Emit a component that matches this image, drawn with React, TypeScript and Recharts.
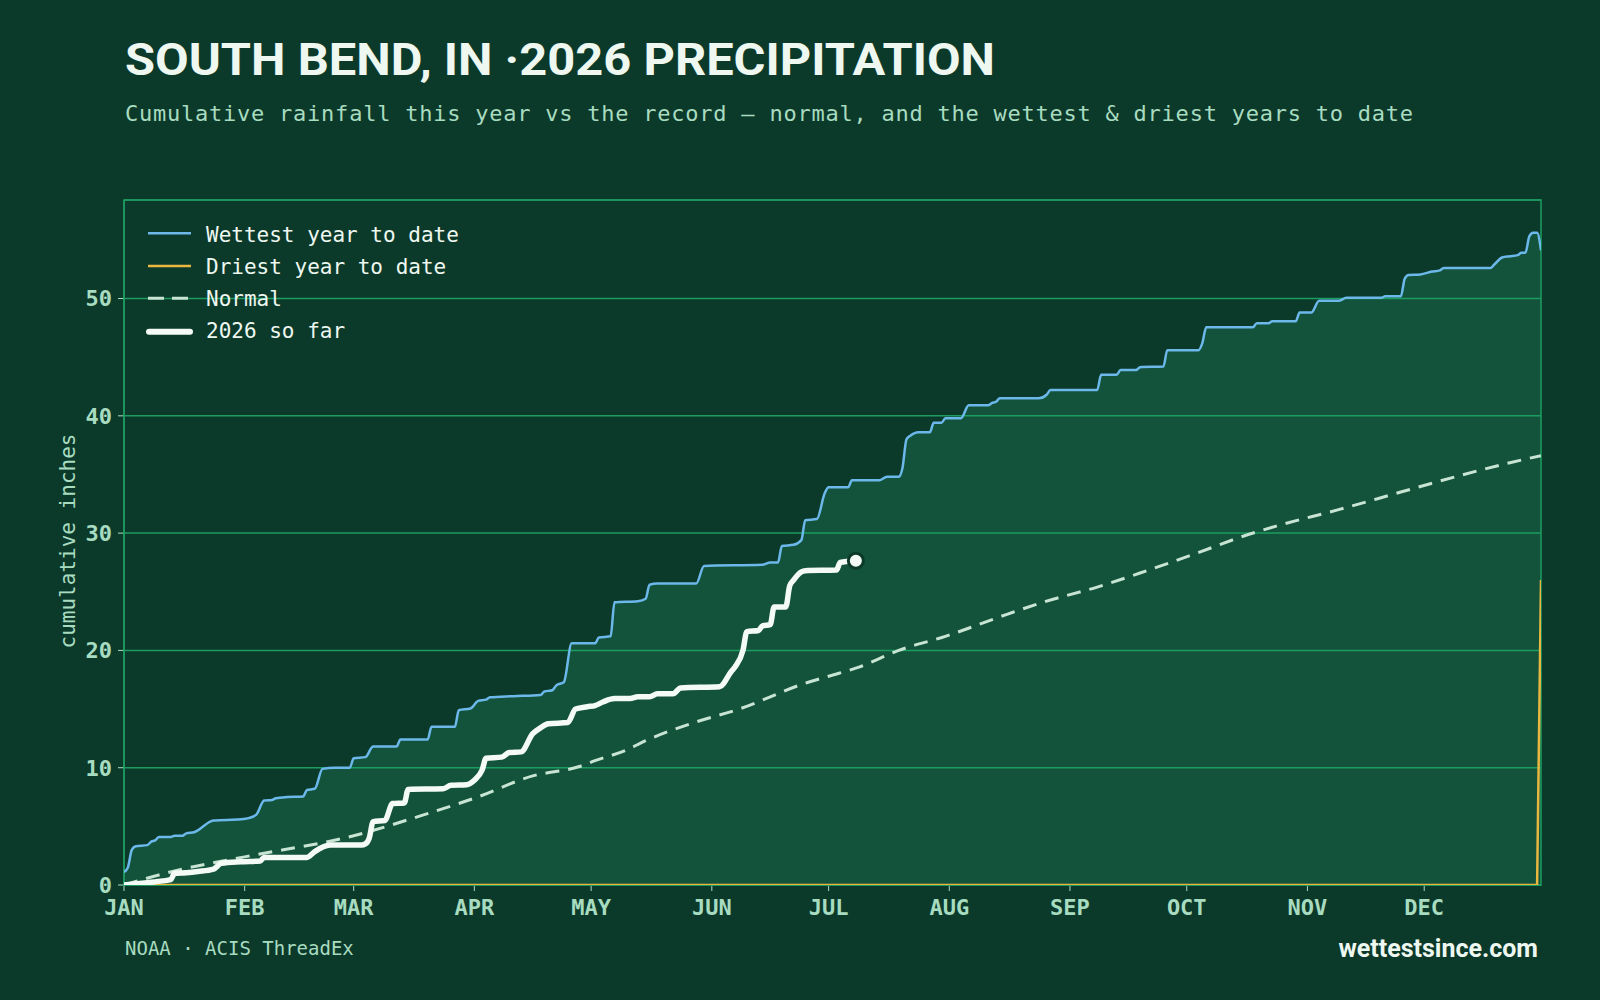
import { ComposedChart, Area, Line, XAxis, YAxis, CartesianGrid, Legend, ReferenceArea } from 'recharts';

// day-of-year index (0 = Jan 1) and cumulative inches
const MONTHS = ['JAN', 'FEB', 'MAR', 'APR', 'MAY', 'JUN', 'JUL', 'AUG', 'SEP', 'OCT', 'NOV', 'DEC'];
const MONTH_STARTS = [0, 31, 59, 90, 120, 151, 181, 212, 243, 273, 304, 334];
const Y_TICKS = [0, 10, 20, 30, 40, 50];

const WETTEST: [number, number][] = [
  [0, 1.1], [1, 1.5], [2, 3.0], [3, 3.3], [6, 3.4], [7, 3.7], [8, 3.8], [9, 4.1], [12, 4.1], [13, 4.2],
  [15, 4.2], [16, 4.4], [18, 4.5], [23, 5.5], [30, 5.6], [32, 5.7], [34, 6.0], [36, 7.2], [38, 7.25], [39, 7.4],
  [42, 7.5], [46, 7.55], [47, 8.1], [49, 8.2], [51, 9.9], [54, 10.0], [58, 10.0], [59, 10.8], [62, 10.9], [64, 11.8],
  [70, 11.8], [71, 12.4], [78, 12.4], [79, 13.5], [85, 13.5], [86, 14.9], [89, 15.05], [91, 15.7], [93, 15.8], [94, 16.0],
  [100, 16.1], [107, 16.2], [108, 16.5], [110, 16.6], [111, 17.0], [113, 17.3], [115, 20.6], [121, 20.6], [122, 21.1], [125, 21.2],
  [126, 24.1], [132, 24.2], [134, 24.4], [135, 25.6], [137, 25.7], [147, 25.7], [149, 27.2], [164, 27.3], [166, 27.5], [168, 27.5],
  [169, 28.9], [172, 29.0], [174, 29.4], [175, 31.1], [178, 31.2], [180, 33.4], [181, 33.9], [186, 33.9], [187, 34.5], [194, 34.5],
  [196, 34.8], [199, 34.8], [200, 35.6], [201, 38.0], [202, 38.3], [204, 38.6], [207, 38.6], [208, 39.4], [210, 39.4], [211, 39.8],
  [215, 39.8], [217, 40.9], [222, 40.9], [223, 41.1], [224, 41.2], [225, 41.5], [235, 41.5], [237, 41.8], [238, 42.2], [250, 42.2],
  [251, 43.5], [255, 43.5], [256, 43.9], [260, 43.9], [261, 44.15], [267, 44.2], [268, 45.6], [276, 45.6], [277, 46.2], [278, 47.55],
  [290, 47.55], [291, 47.9], [294, 47.9], [295, 48.06], [301, 48.06], [302, 48.8], [305, 48.8], [307, 49.8], [312, 49.8], [314, 50.06],
  [323, 50.06], [324, 50.2], [328, 50.2], [329, 51.7], [330, 52.0], [333, 52.05], [336, 52.3], [338, 52.4], [339, 52.6], [351, 52.6],
  [352, 52.9], [354, 53.5], [356, 53.6], [358, 53.7], [359, 53.9], [360, 53.9], [361, 55.3], [362, 55.6], [363, 55.6], [364, 54.1],
];

const DRIEST: [number, number][] = [[0, 0], [363, 0], [364, 26.0]];

const NORMAL: [number, number][] = [
  [0, 0.0], [13, 1.2], [31, 2.4], [59, 4.2], [79, 6.2], [90, 7.4], [105, 9.3], [117, 10.1], [121, 10.6], [129, 11.5],
  [134, 12.3], [146, 13.8], [158, 15.0], [175, 17.2], [181, 17.8], [189, 18.6], [199, 20.0], [211, 21.2], [227, 23.1], [236, 24.1],
  [250, 25.4], [261, 26.6], [274, 28.1], [289, 29.9], [296, 30.6], [312, 32.0], [328, 33.5], [342, 34.8], [356, 36.0], [364, 36.6],
];

const THIS_YEAR: [number, number][] = [
  [0, 0.0], [6, 0.2], [10, 0.35], [12, 0.45], [13, 1.0], [16, 1.05], [19, 1.15], [23, 1.35], [25, 1.85], [30, 1.98],
  [35, 2.05], [36, 2.35], [47, 2.35], [49, 2.85], [53, 3.4], [61, 3.4], [62, 3.5], [63, 4.0], [64, 5.4], [67, 5.5],
  [69, 6.95], [72, 7.0], [73, 8.15], [82, 8.2], [84, 8.5], [88, 8.55], [90, 8.94], [92, 9.8], [93, 10.8], [97, 10.9],
  [99, 11.3], [102, 11.35], [105, 12.9], [107, 13.4], [109, 13.75], [114, 13.85], [116, 15.0], [119, 15.2], [121, 15.3], [123, 15.6],
  [126, 15.9], [130, 15.9], [132, 16.05], [135, 16.05], [137, 16.3], [141, 16.3], [143, 16.8], [153, 16.9], [156, 18.2], [157, 18.6],
  [159, 20.0], [160, 21.6], [163, 21.7], [164, 22.1], [166, 22.2], [167, 23.7], [170, 23.7], [171, 25.5], [172, 26.0], [174, 26.7],
  [175, 26.8], [183, 26.85], [184, 27.5], [186, 27.6], [188, 27.65],
];

const LEGEND_LABELS = ['Wettest year to date', 'Driest year to date', 'Normal', '2026 so far'];

const BG = '#0c3a2a';
const FILL = '#13523b';
const GRID = '#1d9c61';
const MINT = '#a8dcc0';
const BLUE = '#6cb8ea';
const YELLOW = '#e9b740';
const WHITE = '#f4fbf6';
const NORMAL_C = '#c8e4d2';
const TEXT = '#eef8f1';
const MONO = '"DejaVu Sans Mono", monospace';
const SANS = 'Roboto, "Open Sans", sans-serif';

const rows = (pts: [number, number][]) => pts.map(([d, v]) => ({ d, v }));

const LegendBox = () => {
  const samples = [
    <line key="a" x1={8} x2={51} y1={21.3} y2={21.3} stroke={BLUE} strokeWidth={2.5} />,
    <line key="b" x1={8} x2={51} y1={54} y2={54} stroke={YELLOW} strokeWidth={2.5} />,
    <line key="c" x1={8} x2={51} y1={86.3} y2={86.3} stroke={NORMAL_C} strokeWidth={3} strokeDasharray="16 8" />,
    <line key="d" x1={9} x2={50} y1={119.7} y2={119.7} stroke={WHITE} strokeWidth={6} strokeLinecap="round" />,
  ];
  return (
    <svg width={340} height={135} style={{ display: 'block' }}>
      {samples}
      {LEGEND_LABELS.map((l, i) => (
        <text key={l} x={66} y={29.5 + i * 32.2} fill={TEXT} fontFamily={MONO} fontSize={21}>{l}</text>
      ))}
    </svg>
  );
};

const EndDot = (props: any) => {
  const { cx, cy, index } = props;
  if (index !== THIS_YEAR.length - 1) return <g key={`dot-${index}`} />;
  return <circle key={`dot-${index}`} cx={cx} cy={cy} r={7.5} fill={WHITE} stroke={BG} strokeWidth={3} />;
};

export default function App() {
  return (
    <div style={{ position: 'relative', width: 1600, height: 1000, background: BG, overflow: 'hidden' }}>
      <style>{`html, body { margin: 0; padding: 0; background: ${BG}; }`}</style>
      <div style={{ position: 'absolute', left: 0, top: 0 }}>
        <ComposedChart width={1600} height={1000} margin={{ top: 200, right: 59, bottom: 75, left: 64 }}>
          <XAxis
            type="number" dataKey="d" domain={[0, 364]} ticks={MONTH_STARTS} interval={0} allowDataOverflow
            tickFormatter={(d: number) => MONTHS[MONTH_STARTS.indexOf(d)]}
            height={40} tickSize={6} tickMargin={8} zIndex={120}
            axisLine={{ stroke: GRID, strokeWidth: 1.5 }} tickLine={{ stroke: MINT }}
            tick={{ fill: MINT, fontSize: 22, fontWeight: 700, fontFamily: MONO }}
          />
          <YAxis
            type="number" domain={[0, 58.4]} ticks={Y_TICKS} interval={0} allowDataOverflow
            width={60} tickSize={6} tickMargin={6} zIndex={120}
            axisLine={{ stroke: GRID, strokeWidth: 1.5 }} tickLine={{ stroke: MINT }}
            tick={{ fill: MINT, fontSize: 22, fontWeight: 700, fontFamily: MONO }}
          />
          <Area data={rows(WETTEST)} dataKey="v" type="monotone" stroke="none" fill={FILL} fillOpacity={1} isAnimationActive={false} />
          <CartesianGrid vertical={false} stroke={GRID} strokeWidth={1.5} zIndex={150} />
          <ReferenceArea x1={0} x2={364} y1={0} y2={58.4} fill="none" stroke={GRID} strokeWidth={1.5} ifOverflow="visible" zIndex={150} />
          <Line data={rows(WETTEST)} dataKey="v" type="monotone" stroke={BLUE} strokeWidth={2.5} dot={false} isAnimationActive={false} />
          <Line data={rows(DRIEST)} dataKey="v" type="linear" stroke={YELLOW} strokeWidth={2.5} dot={false} isAnimationActive={false} />
          <Line data={rows(NORMAL)} dataKey="v" type="monotone" stroke={NORMAL_C} strokeWidth={3} strokeDasharray="14 9" dot={false} isAnimationActive={false} />
          <Line data={rows(THIS_YEAR)} dataKey="v" type="monotone" stroke={WHITE} strokeWidth={5.5} strokeLinejoin="round" dot={EndDot} isAnimationActive={false} />
          <Legend layout="vertical" align="center" verticalAlign="middle" content={() => <LegendBox />}
            wrapperStyle={{ left: 140, top: 212, width: 340, height: 135 }} />
        </ComposedChart>
      </div>
      <svg width={1600} height={1000} style={{ position: 'absolute', left: 0, top: 0, pointerEvents: 'none' }}>
        <text x={125} y={75} fill={TEXT} fontFamily={SANS} fontWeight={700} fontSize={45} textLength={870} lengthAdjust="spacingAndGlyphs">
          SOUTH BEND, IN ·2026 PRECIPITATION
        </text>
        <text x={125} y={121} fill={MINT} fontFamily={MONO} fontSize={22} textLength={1288}>
          Cumulative rainfall this year vs the record — normal, and the wettest &amp; driest years to date
        </text>
        <text x={75} y={541} fill={MINT} fontFamily={MONO} fontSize={21} textAnchor="middle" transform="rotate(-90 75 541)">
          cumulative inches
        </text>
        <text x={125} y={955} fill={MINT} fontFamily={MONO} fontSize={19}>NOAA · ACIS ThreadEx</text>
        <text x={1538} y={957} fill={TEXT} fontFamily={SANS} fontWeight={700} fontSize={25} textAnchor="end">wettestsince.com</text>
      </svg>
    </div>
  );
}
